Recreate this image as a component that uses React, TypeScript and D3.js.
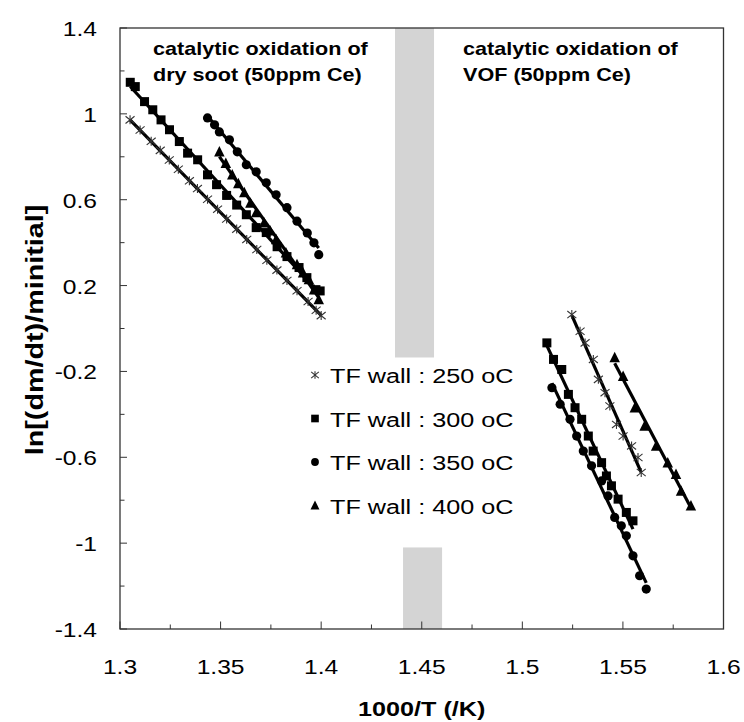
import React from "react";
import * as d3 from "d3";

// ---------- data ----------
const xTicks = [1.3, 1.35, 1.4, 1.45, 1.5, 1.55, 1.6];
const xTickLabels = ["1.3", "1.35", "1.4", "1.45", "1.5", "1.55", "1.6"];
const yTicks = [1.4, 1, 0.6, 0.2, -0.2, -0.6, -1, -1.4];
const yTickLabels = ["1.4", "1", "0.6", "0.2", "-0.2", "-0.6", "-1", "-1.4"];

const seriesNames = ["TF wall : 250 oC", "TF wall : 300 oC", "TF wall : 350 oC", "TF wall : 400 oC"];
const seriesMarkers = ["asterisk", "square", "circle", "triangle"];

// dry soot group
const soot250X = [1.305, 1.31, 1.3155, 1.32, 1.3245, 1.329, 1.3345, 1.3385, 1.3435, 1.3485, 1.353, 1.358, 1.363, 1.368, 1.373, 1.378, 1.383, 1.388, 1.3935, 1.3975, 1.4];
const soot250Y = [0.972, 0.925, 0.872, 0.83, 0.785, 0.742, 0.688, 0.652, 0.602, 0.556, 0.51, 0.463, 0.415, 0.368, 0.318, 0.272, 0.224, 0.176, 0.126, 0.085, 0.06];
const soot300X = [1.3051, 1.3076, 1.3122, 1.3163, 1.3204, 1.3246, 1.3295, 1.3336, 1.3386, 1.3435, 1.348, 1.353, 1.358, 1.3628, 1.3677, 1.3727, 1.3781, 1.383, 1.389, 1.3929, 1.3974, 1.3995];
const soot300Y = [1.147, 1.127, 1.057, 1.019, 0.972, 0.926, 0.871, 0.817, 0.786, 0.716, 0.67, 0.62, 0.575, 0.53, 0.47, 0.447, 0.381, 0.335, 0.284, 0.237, 0.181, 0.175];
const soot350X = [1.3435, 1.347, 1.3494, 1.3544, 1.3583, 1.3628, 1.3677, 1.3727, 1.3776, 1.383, 1.388, 1.3931, 1.3964, 1.3988];
const soot350Y = [0.981, 0.949, 0.916, 0.879, 0.823, 0.763, 0.73, 0.679, 0.623, 0.563, 0.5, 0.445, 0.399, 0.344];
const soot400X = [1.3494, 1.3526, 1.3558, 1.3588, 1.3618, 1.3648, 1.3677, 1.3716, 1.3746, 1.3776, 1.3825, 1.388, 1.391, 1.3939, 1.3965, 1.3988];
const soot400Y = [0.823, 0.77, 0.716, 0.675, 0.633, 0.585, 0.54, 0.493, 0.455, 0.414, 0.353, 0.298, 0.26, 0.228, 0.18, 0.135];

// VOF group
const vof250X = [1.5246, 1.5287, 1.5312, 1.5353, 1.5378, 1.5411, 1.5435, 1.5468, 1.5501, 1.5543, 1.5575, 1.5591];
const vof250Y = [0.065, -0.013, -0.067, -0.144, -0.237, -0.299, -0.361, -0.447, -0.501, -0.547, -0.601, -0.671];
const vof300X = [1.5122, 1.5155, 1.5196, 1.5229, 1.5262, 1.5295, 1.5328, 1.5352, 1.5394, 1.5418, 1.5443, 1.5476, 1.5517, 1.555];
const vof300Y = [-0.067, -0.144, -0.191, -0.307, -0.369, -0.423, -0.501, -0.571, -0.625, -0.687, -0.733, -0.795, -0.857, -0.896];
const vof350X = [1.5147, 1.5188, 1.5237, 1.527, 1.5303, 1.5344, 1.5394, 1.5426, 1.5459, 1.5492, 1.5517, 1.555, 1.5583, 1.5616];
const vof350Y = [-0.276, -0.353, -0.423, -0.501, -0.571, -0.64, -0.71, -0.78, -0.88, -0.919, -0.966, -1.059, -1.152, -1.214];
const vof400X = [1.5459, 1.5501, 1.5559, 1.5608, 1.5665, 1.5723, 1.5764, 1.5789, 1.5838];
const vof400Y = [-0.135, -0.222, -0.369, -0.454, -0.547, -0.625, -0.679, -0.757, -0.826];

// grey break bands [x0, x1, y0, y1]
const bandUpper = [1.4367, 1.4561, -0.135, 1.4];
const bandLower = [1.4407, 1.4601, -1.4, -1.02];

// ---------- layout ----------
const W = 744, H = 722;
const L = 120, R = 723.5, T = 28, B = 629;
const SX = 1.2; // horizontal text stretch of the original

const x = d3.scaleLinear().domain([1.3, 1.6]).range([L, R]);
const y = d3.scaleLinear().domain([-1.4, 1.4]).range([B, T]);

const groups = [
  { xs: soot250X, ys: soot250Y, s: 0 },
  { xs: soot300X, ys: soot300Y, s: 1 },
  { xs: soot350X, ys: soot350Y, s: 2 },
  { xs: soot400X, ys: soot400Y, s: 3 },
  { xs: vof250X, ys: vof250Y, s: 0 },
  { xs: vof300X, ys: vof300Y, s: 1 },
  { xs: vof350X, ys: vof350Y, s: 2 },
  { xs: vof400X, ys: vof400Y, s: 3 },
];

function fit(xs: number[], ys: number[]) {
  const n = xs.length;
  const mx = d3.mean(xs)!, my = d3.mean(ys)!;
  let sxy = 0, sxx = 0;
  for (let i = 0; i < n; i++) { sxy += (xs[i] - mx) * (ys[i] - my); sxx += (xs[i] - mx) ** 2; }
  const b = sxy / sxx; const a = my - b * mx;
  const x0 = d3.min(xs)!, x1 = d3.max(xs)!;
  return [[x0, a + b * x0], [x1, a + b * x1]];
}

function Marker({ type, cx, cy, k = 1 }: { type: string; cx: number; cy: number; k?: number }) {
  if (type === "square") {
    const s = 9 * k;
    return <rect x={cx - s / 2} y={cy - s / 2} width={s} height={s} fill="#000" />;
  }
  if (type === "circle") return <circle cx={cx} cy={cy} r={4.6 * k} fill="#000" />;
  if (type === "triangle") {
    const s = 10.5 * k;
    const p = d3.path();
    p.moveTo(cx, cy - s * 0.55); p.lineTo(cx + s / 2, cy + s * 0.45); p.lineTo(cx - s / 2, cy + s * 0.45); p.closePath();
    return <path d={p.toString()} fill="#000" />;
  }
  const r = 4.5 * k;
  return (
    <g stroke="#333" strokeWidth={1.1}>
      <line x1={cx} y1={cy - r} x2={cx} y2={cy + r} />
      <line x1={cx - r} y1={cy - r * 0.8} x2={cx + r} y2={cy + r * 0.8} />
      <line x1={cx - r} y1={cy + r * 0.8} x2={cx + r} y2={cy - r * 0.8} />
    </g>
  );
}

function SText({ tx, ty, anchor = "start", size, weight = "normal", children }: any) {
  return (
    <g transform={`translate(${tx},${ty}) scale(${SX},1)`}>
      <text textAnchor={anchor} fontSize={size} fontWeight={weight} fontFamily="Liberation Sans, Arial, sans-serif" fill="#000">
        {children}
      </text>
    </g>
  );
}

export default function App() {
  const line = d3.line<number[]>().x((d) => x(d[0])).y((d) => y(d[1]));
  const xMinor = d3.range(0, 13).map((i) => 1.3 + i * 0.025);
  const yMinor = d3.range(0, 15).map((i) => -1.4 + i * 0.2);
  return (
    <svg width={W} height={H} style={{ display: "block", position: "absolute", left: 0, top: 0, background: "#fff" }}>
      <rect x={0} y={0} width={W} height={H} fill="#fff" />
      {/* bands */}
      <rect x={x(bandUpper[0])} y={y(bandUpper[3])} width={x(bandUpper[1]) - x(bandUpper[0])} height={y(bandUpper[2]) - y(bandUpper[3])} fill="#d4d4d4" />
      <rect x={x(bandLower[0])} y={y(bandLower[3])} width={x(bandLower[1]) - x(bandLower[0])} height={y(bandLower[2]) - y(bandLower[3])} fill="#d4d4d4" />
      {/* ticks */}
      {xMinor.map((v, i) => (
        <line key={"xt" + i} x1={x(v)} x2={x(v)} y1={B} y2={B - (i % 2 === 0 ? 7.5 : 4.5)} stroke="#333" strokeWidth={1} />
      ))}
      {yMinor.map((v, i) => (
        <line key={"yt" + i} x1={L} x2={L + (i % 2 === 0 ? 7 : 4.5)} y1={y(v)} y2={y(v)} stroke="#333" strokeWidth={1} />
      ))}
      <rect x={L} y={T} width={R - L} height={B - T} fill="none" stroke="#333" strokeWidth={1.3} />
      {/* tick labels */}
      {xTicks.map((v, i) => (
        <SText key={"xl" + i} tx={x(v)} ty={674} anchor="middle" size={20.5}>{xTickLabels[i]}</SText>
      ))}
      {yTicks.map((v, i) => (
        <SText key={"yl" + i} tx={97} ty={y(v) + 8} anchor="end" size={20.5}>{yTickLabels[i]}</SText>
      ))}
      {/* fit lines and markers */}
      {groups.map((g, gi) => (
        <g key={"g" + gi}>
          <path d={line(fit(g.xs, g.ys))!} stroke="#000" strokeWidth={3.2} fill="none" />
          {g.xs.map((v, i) => (
            <Marker key={i} type={seriesMarkers[g.s]} cx={x(v)} cy={y(g.ys[i])} />
          ))}
        </g>
      ))}
      {/* annotations */}
      <SText tx={153} ty={55} size={18} weight="bold">catalytic oxidation of</SText>
      <SText tx={153} ty={81} size={18} weight="bold">dry soot (50ppm Ce)</SText>
      <SText tx={463} ty={55} size={18} weight="bold">catalytic oxidation of</SText>
      <SText tx={463} ty={81} size={18} weight="bold">VOF (50ppm Ce)</SText>
      {/* legend */}
      {seriesNames.map((n, i) => (
        <g key={"lg" + i}>
          <Marker type={seriesMarkers[i]} cx={315} cy={375 + i * 43.5} k={0.85} />
          <SText tx={330} ty={375 + i * 43.5 + 8} size={21}>{n}</SText>
        </g>
      ))}
      {/* axis titles */}
      <SText tx={(L + R) / 2} ty={716} anchor="middle" size={21} weight="bold">1000/T (/K)</SText>
      <g transform={`translate(43,330) rotate(-90) scale(1.25,1)`}>
        <text textAnchor="middle" fontSize={23} fontWeight="bold" fontFamily="Liberation Sans, Arial, sans-serif">
          ln[(dm/dt)/minitial]
        </text>
      </g>
    </svg>
  );
}
